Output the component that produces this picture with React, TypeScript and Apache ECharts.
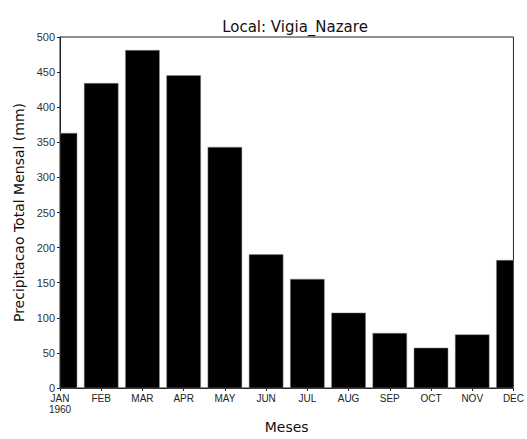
import React, { useEffect, useRef } from "react";
import * as echarts from "echarts";

const months = ["JAN", "FEB", "MAR", "APR", "MAY", "JUN", "JUL", "AUG", "SEP", "OCT", "NOV", "DEC"];
const yearLabel = "1960";
const precip = [363, 434, 481, 445, 343, 190, 155, 107, 78, 57, 76, 182];
const yTicks = [0, 50, 100, 150, 200, 250, 300, 350, 400, 450, 500];

export default function App() {
  const ref = useRef<HTMLDivElement>(null);
  useEffect(() => {
    document.body.style.margin = "0";
    const chart = echarts.init(ref.current!, null, { renderer: "svg" });
    const font = "Liberation Sans";
    const barW = 34;
    chart.setOption({
      animation: false,
      backgroundColor: "#fff",
      title: {
        text: "Local: Vigia_Nazare",
        left: 290,
        textAlign: "center",
        top: 14,
        textStyle: { fontFamily: "DejaVu Sans", fontSize: 15, fontWeight: "normal", color: "#111" },
      },
      grid: {
        left: 60,
        right: 8,
        top: 37,
        bottom: 28.5,
        show: true,
        borderColor: "#222",
        borderWidth: 1,
        backgroundColor: "transparent",
      },
      xAxis: {
        type: "value",
        min: 0,
        max: 11,
        interval: 1,
        name: "Meses",
        nameLocation: "middle",
        nameGap: 32,
        nameTextStyle: { fontFamily: "DejaVu Sans", fontSize: 14, color: "#111" },
        axisLine: { show: true, lineStyle: { color: "#222", width: 1 } },
        axisTick: { show: true, length: 3, lineStyle: { color: "#222" } },
        splitLine: { show: false },
        axisLabel: {
          fontFamily: font,
          fontSize: 10,
          color: "#222",
          margin: 5,
          lineHeight: 11,
          showMaxLabel: true,
          showMinLabel: true,
          formatter: (v: number) => {
            const i = Math.round(v);
            if (i === 0) return months[0] + "\n" + yearLabel;
            return months[i] ?? "";
          },
        },
      },
      yAxis: {
        type: "value",
        min: yTicks[0],
        max: yTicks[yTicks.length - 1],
        interval: yTicks[1] - yTicks[0],
        name: "Precipitacao Total Mensal (mm)",
        nameLocation: "middle",
        nameGap: 28,
        nameTextStyle: { fontFamily: "DejaVu Sans", fontSize: 14, color: "#111" },
        axisLine: { show: true, lineStyle: { color: "#222", width: 1 } },
        axisTick: { show: true, length: 3, lineStyle: { color: "#222" } },
        splitLine: { show: false },
        axisLabel: { fontFamily: font, fontSize: 11, color: "#333", margin: 5 },
      },
      series: [
        {
          type: "custom",
          data: precip.map((v, i) => [i, v]),
          encode: { x: 0, y: 1 },
          renderItem: (params: any, api: any) => {
            const x = api.value(0);
            const y = api.value(1);
            const top = api.coord([x, y]);
            const base = api.coord([x, 0]);
            const cs = params.coordSys;
            const shape = echarts.graphic.clipRectByRect(
              { x: top[0] - barW / 2, y: top[1], width: barW, height: base[1] - top[1] },
              { x: cs.x, y: cs.y, width: cs.width, height: cs.height }
            );
            if (!shape) return null;
            return {
              type: "rect",
              shape,
              style: { fill: "#000", stroke: "#888", lineWidth: 0.5 },
            };
          },
        },
      ],
    });
    return () => chart.dispose();
  }, []);
  return <div ref={ref} style={{ position: "absolute", left: 0, top: 0, width: 527, height: 439 }} />;
}
